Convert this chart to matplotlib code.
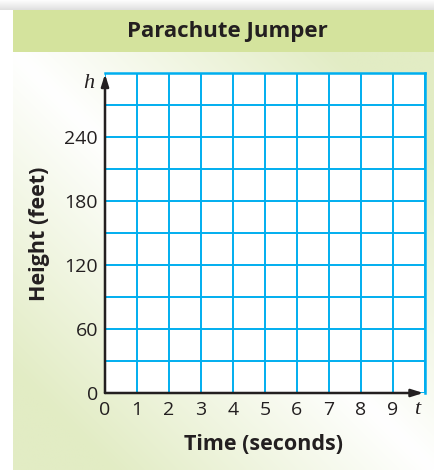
import numpy as np
import matplotlib
matplotlib.use('Agg')
import matplotlib.pyplot as plt
from matplotlib.patches import Rectangle

# 차트 데이터
title = 'Parachute Jumper'
x_label = 'Time (seconds)'
y_label = 'Height (feet)'
x_ticks = list(range(0, 11))
x_tick_labels = ['0', '1', '2', '3', '4', '5', '6', '7', '8', '9', '']
y_ticks = list(range(0, 301, 30))
y_tick_labels = ['0', '', '60', '', '120', '', '180', '', '240', '', '']

grid_color = '#00aeef'
bar_color = '#d4e39d'
green_corner = np.array([226, 236, 196]) / 255.0

plt.rcParams['font.family'] = ['Open Sans', 'DejaVu Sans']

W, H = 434, 470
fig = plt.figure(figsize=(W / 100, H / 100), dpi=100)
fig.patch.set_facecolor('white')

# 배경 (픽셀 좌표)
bg = fig.add_axes([0, 0, 1, 1])
bg.set_xlim(0, W)
bg.set_ylim(H, 0)
bg.axis('off')

# 그림자
for i in range(10):
    a = 0.012 * (i + 1)
    bg.add_patch(Rectangle((0, i), W, 1, color='black', alpha=a, lw=0))

# 패널 그라데이션
u = np.linspace(0, 1, 200)
v = np.linspace(0, 1, 200)
uu, vv = np.meshgrid(u, v)
t = np.clip(np.abs(uu - vv) * 1.3, 0, 1)
img = (1 - t)[..., None] * np.ones(3) + t[..., None] * green_corner
bg.imshow(img, extent=[13, W, H, 52], aspect='auto', interpolation='bilinear')
bg.set_xlim(0, W)
bg.set_ylim(H, 0)

# 제목 바
bg.add_patch(Rectangle((13, 10), W - 13, 42, color=bar_color, lw=0))
bg.text(227, 31, title, ha='center', va='center', fontsize=16,
        fontweight='bold', color='#231f20')

bg.text(39, 234, y_label, ha='center', va='center', rotation=90,
        fontsize=15.5, fontweight='bold', color='#231f20')
bg.text(264, 444, x_label, ha='center', va='center',
        fontsize=15.5, fontweight='bold', color='#231f20')
bg.text(417, 409, 't', ha='center', va='center', fontsize=16,
        family='Liberation Serif', style='italic', color='#231f20')
bg.text(89, 83, 'h', ha='center', va='center', fontsize=16,
        family='Liberation Serif', style='italic', color='#231f20')

# 그래프 격자
ax = fig.add_axes([105 / W, (H - 393) / H, 320 / W, 320 / H])
ax.set_facecolor('white')
ax.set_xlim(0, 10)
ax.set_ylim(0, 300)
ax.set_xticks(x_ticks)
ax.set_xticklabels(x_tick_labels)
ax.set_yticks(y_ticks)
ax.set_yticklabels(y_tick_labels)
ax.tick_params(length=0, labelsize=14, colors='#231f20')
ax.tick_params(axis='x', pad=6)
ax.tick_params(axis='y', pad=5)
ax.grid(True, color=grid_color, lw=1.4)
ax.set_axisbelow(True)
for s in ['top', 'right']:
    ax.spines[s].set_color(grid_color)
    ax.spines[s].set_linewidth(1.8)
for s in ['left', 'bottom']:
    ax.spines[s].set_visible(False)

arrow = dict(arrowstyle='-|>,head_length=0.7,head_width=0.22', color='#231f20',
             lw=1.8, shrinkA=0, shrinkB=0)
ax.annotate('', xy=(9.95, 0), xytext=(0, 0), arrowprops=arrow,
            annotation_clip=False)
ax.annotate('', xy=(0, 299), xytext=(0, 0), arrowprops=arrow,
            annotation_clip=False)

fig.savefig('out.png', dpi=100)
